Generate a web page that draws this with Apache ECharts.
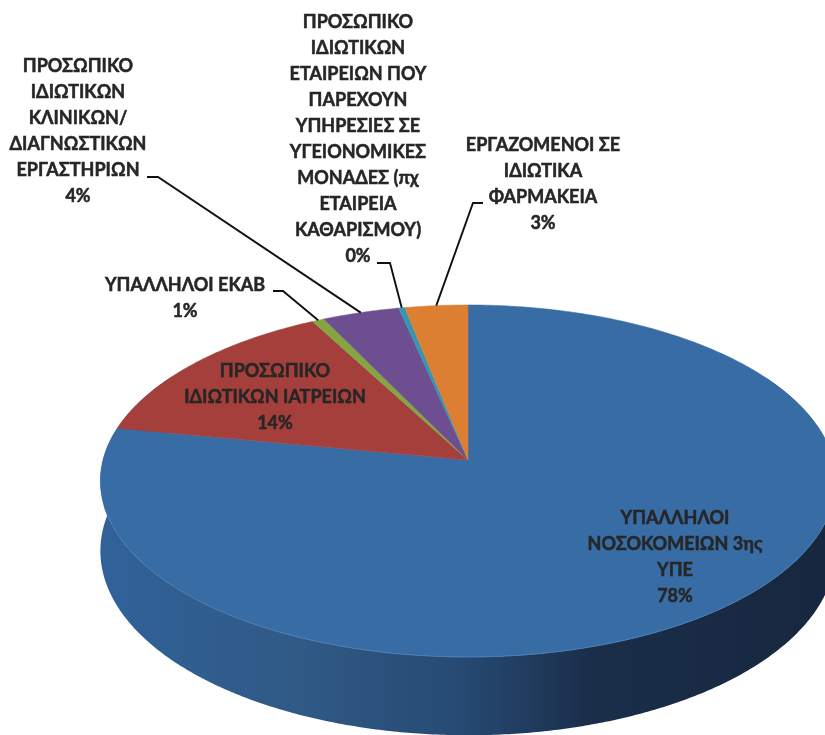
<!DOCTYPE html>
<html>
<head>
<meta charset="utf-8">
<style>
  html, body { margin: 0; padding: 0; background: #fff; }
  #chart { width: 825px; height: 735px; }
</style>
<script src="https://cdn.jsdelivr.net/npm/echarts@6/dist/echarts.min.js"></script>
</head>
<body>
<div id="chart"></div>
<script>
// categories and shares, in drawing order (clockwise from 12 o'clock)
const categories = [
  'ΥΠΑΛΛΗΛΟΙ\nΝΟΣΟΚΟΜΕΙΩΝ 3ης\nΥΠΕ',
  'ΠΡΟΣΩΠΙΚΟ\nΙΔΙΩΤΙΚΩΝ ΙΑΤΡΕΙΩΝ',
  'ΥΠΑΛΛΗΛΟΙ ΕΚΑΒ',
  'ΠΡΟΣΩΠΙΚΟ\nΙΔΙΩΤΙΚΩΝ\nΚΛΙΝΙΚΩΝ/\nΔΙΑΓΝΩΣΤΙΚΩΝ\nΕΡΓΑΣΤΗΡΙΩΝ',
  'ΠΡΟΣΩΠΙΚΟ\nΙΔΙΩΤΙΚΩΝ\nΕΤΑΙΡΕΙΩΝ ΠΟΥ\nΠΑΡΕΧΟΥΝ\nΥΠΗΡΕΣΙΕΣ ΣΕ\nΥΓΕΙΟΝΟΜΙΚΕΣ\nΜΟΝΑΔΕΣ (πχ\nΕΤΑΙΡΕΙΑ\nΚΑΘΑΡΙΣΜΟΥ)',
  'ΕΡΓΑΖΟΜΕΝΟΙ ΣΕ\nΙΔΙΩΤΙΚΑ\nΦΑΡΜΑΚΕΙΑ'
]
const values = [78.0, 14.2, 0.6, 3.8, 0.3, 3.1]
const colors = ['#386ca5', '#a53f3c', '#87a443', '#6d4f91', '#3596b0', '#dc7f32']

// label block centres and leader elbows (px)
const labelPos = [[675, 557], [275, 397.5], [185, 298], [78, 131.5], [358, 139], [543, 184]]
const leaders = [null, null, [[273, 291], [283, 291]], [[147, 177], [158, 177]], [[377, 263], [390, 263]], [[483, 203], [473, 203]]]

// pie projection: circle seen in perspective, extruded downwards
const CX = 468, CY = 460, RX = 365, RY = 173.5, PERSP = 0.119, DEPTH = 69
const total = values.reduce((a, b) => a + b, 0)

function project (deg, drop) {
  const a = deg * Math.PI / 180
  const u = Math.sin(a), v = Math.cos(a)
  const w = 1 + PERSP * v
  return [CX + RX * u / w, CY - RY * v / w + (drop ? DEPTH / w : 0)]
}

function arc (from, to, drop) {
  const pts = []
  const n = Math.max(2, Math.ceil((to - from) * 2))
  for (let i = 0; i <= n; i++) pts.push(project(from + (to - from) * i / n, drop))
  return pts
}

function sliceRange (idx) {
  let sum = 0
  for (let i = 0; i < idx; i++) sum += values[i]
  return [sum / total * 360, (sum + values[idx]) / total * 360]
}

const wallFill = new echarts.graphic.LinearGradient(98, 0, 825, 0, [
  { offset: 0, color: '#30629a' },
  { offset: 0.28, color: '#305985' },
  { offset: 0.5, color: '#264a73' },
  { offset: 0.68, color: '#1a2e4a' },
  { offset: 1, color: '#17273f' }
], true)

function renderWall (params, api) {
  const r = sliceRange(api.value(0))
  const from = Math.max(r[0], 60), to = Math.min(r[1], 300)
  if (to <= from) return { type: 'group', children: [] }
  return {
    type: 'polygon',
    shape: { points: arc(from, to, false).concat(arc(from, to, true).reverse()) },
    style: { fill: wallFill }
  }
}

function renderTop (params, api) {
  const i = api.value(0)
  const r = sliceRange(i)
  return {
    type: 'polygon',
    shape: { points: [[CX, CY]].concat(arc(r[0], r[1], false)) },
    style: { fill: colors[i], stroke: colors[i], lineWidth: 0.5 }
  }
}

function renderRim () {
  return {
    type: 'polyline',
    shape: { points: arc(78, 255, false) },
    style: { fill: null, stroke: '#4d7cb0', lineWidth: 1 }
  }
}

function renderLabel (params, api) {
  const i = api.value(0)
  const r = sliceRange(i)
  const children = []
  if (leaders[i]) {
    children.push({
      type: 'polyline',
      shape: { points: leaders[i].concat([project((r[0] + r[1]) / 2, false)]) },
      style: { fill: null, stroke: '#111', lineWidth: 1.9 }
    })
  }
  children.push({
    type: 'text',
    x: labelPos[i][0],
    y: labelPos[i][1],
    style: {
      text: categories[i] + '\n' + Math.round(values[i]) + '%',
      font: 'bold 18px Lato, "Open Sans", sans-serif',
      lineHeight: 26,
      fill: '#262626',
      stroke: '#262626',
      lineWidth: 0.5,
      align: 'center',
      verticalAlign: 'middle'
    }
  })
  return { type: 'group', children }
}

const rows = values.map((v, i) => [i, v])
const chart = echarts.init(document.getElementById('chart'))
chart.setOption({
  animation: false,
  backgroundColor: '#fff',
  series: [
    { type: 'custom', coordinateSystem: 'none', renderItem: renderWall, data: rows, z: 1, silent: true },
    { type: 'custom', coordinateSystem: 'none', renderItem: renderTop, data: rows, z: 2, silent: true },
    { type: 'custom', coordinateSystem: 'none', renderItem: renderRim, data: [[0]], z: 3, silent: true },
    { type: 'custom', coordinateSystem: 'none', renderItem: renderLabel, data: rows, z: 4, silent: true }
  ]
})
</script>
</body>
</html>
